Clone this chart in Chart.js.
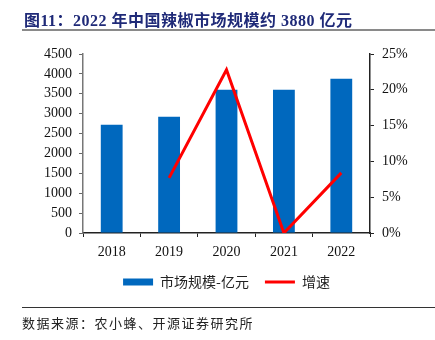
<!DOCTYPE html>
<html>
<head>
<meta charset="utf-8">
<script src="https://cdn.jsdelivr.net/npm/chart.js@4/dist/chart.umd.min.js"></script>
<style>
  html, body { margin: 0; padding: 0; background: #fff; }
  #wrap { position: relative; width: 435px; height: 340px; overflow: hidden; }
  #c { position: absolute; left: 0; top: 0; }
  #title { position: absolute; left: 24px; top: 7px; font: bold 16px 'Liberation Serif', 'Noto Sans CJK SC', serif; color: #1F2A78; white-space: nowrap; letter-spacing: 0.5px; }
  #line1 { position: absolute; left: 22px; top: 29px; width: 413px; height: 2px; background: #8a8a8a; }
  #line2 { position: absolute; left: 22px; top: 307px; width: 413px; height: 1px; background: #333; }
  #source { position: absolute; left: 22px; top: 313px; font: 13px 'Noto Sans CJK SC', sans-serif; color: #222; letter-spacing: 1.5px; white-space: nowrap; }
</style>
</head>
<body>
<div id="wrap">
  <canvas id="c" width="435" height="340"></canvas>
  <div id="title">图11：2022 年中国辣椒市场规模约 3880 亿元</div>
  <div id="line1"></div>
  <div id="line2"></div>
  <div id="source">数据来源：农小蜂、开源证券研究所</div>
</div>
<script>
const categories = ['2018', '2019', '2020', '2021', '2022'];
const marketSize = [2720, 2920, 3600, 3600, 3880];
const growthRate = [null, 7.7, 22.8, 0, 8.4];
const leftTicks = [0, 500, 1000, 1500, 2000, 2500, 3000, 3500, 4000, 4500];
const rightTicks = [0, 5, 10, 15, 20, 25];
const seriesNames = ['市场规模-亿元', '增速'];

const tickFont = { family: "'Liberation Serif', serif", size: 14 };

new Chart(document.getElementById('c'), {
  data: {
    labels: categories,
    datasets: [
      {
        type: 'line',
        label: seriesNames[1],
        data: growthRate,
        yAxisID: 'y1',
        borderColor: '#FF0000',
        backgroundColor: '#FF0000',
        borderWidth: 3,
        pointRadius: 0,
        pointStyle: 'line',
        tension: 0,
        order: 0
      },
      {
        type: 'bar',
        label: seriesNames[0],
        data: marketSize,
        yAxisID: 'y',
        backgroundColor: '#0068BE',
        borderWidth: 0,
        barPercentage: 0.38,
        categoryPercentage: 1,
        pointStyle: 'rect',
        order: 1
      }
    ]
  },
  options: {
    responsive: false,
    animation: false,
    layout: { padding: { top: 54, left: 18, right: 0, bottom: 41 } },
    plugins: {
      tooltip: { enabled: false },
      legend: {
        position: 'bottom',
        reverse: true,
        labels: {
          usePointStyle: true,
          pointStyleWidth: 30,
          boxHeight: 7,
          padding: 16,
          color: '#222',
          font: { family: "'Noto Sans CJK SC', sans-serif", size: 14 }
        }
      }
    },
    scales: {
      x: {
        grid: { display: true, drawOnChartArea: false, offset: true, tickLength: 4, color: '#222' },
        border: { color: '#222', width: 1.5 },
        ticks: { color: '#111', font: tickFont, padding: 7, maxRotation: 0 },
        afterFit: s => { s.height = 26; }
      },
      y: {
        position: 'left',
        min: 0, max: 4500,
        afterBuildTicks: s => { s.ticks = leftTicks.map(v => ({ value: v })); },
        grid: { display: true, drawOnChartArea: false, tickLength: 4, color: '#666' },
        border: { color: '#777', width: 1.5 },
        ticks: { color: '#111', font: tickFont, padding: 7, callback: v => String(v) },
        afterFit: s => { s.width = 65; }
      },
      y1: {
        position: 'right',
        min: 0, max: 25,
        afterBuildTicks: s => { s.ticks = rightTicks.map(v => ({ value: v })); },
        grid: { display: true, drawOnChartArea: false, tickLength: 4, color: '#222' },
        border: { color: '#222', width: 1.5 },
        ticks: { color: '#111', font: tickFont, padding: 8, callback: v => v + '%' },
        afterFit: s => { s.width = 65; }
      }
    }
  }
});
</script>
</body>
</html>
